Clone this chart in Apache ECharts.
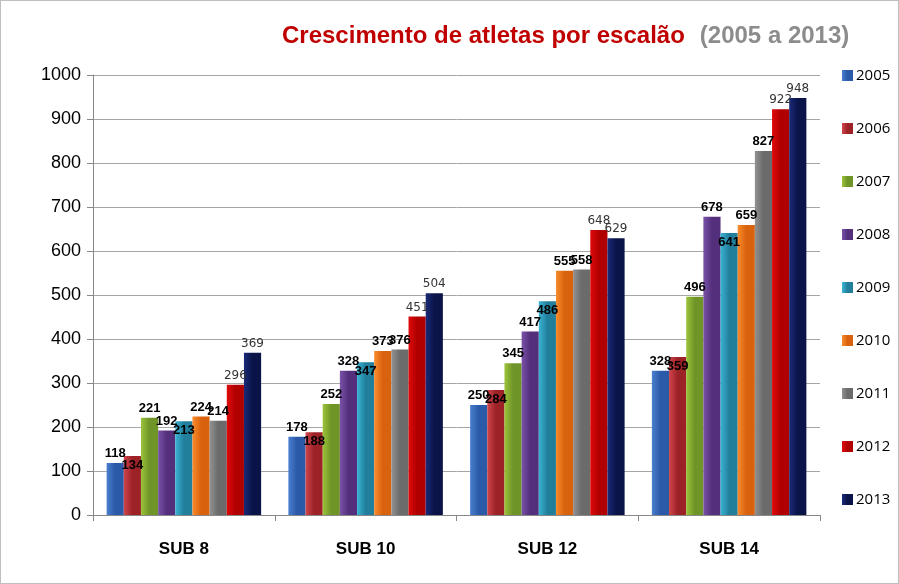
<!DOCTYPE html>
<html>
<head>
<meta charset="utf-8">
<script src="https://cdn.jsdelivr.net/npm/echarts@6/dist/echarts.min.js"></script>
<style>
html, body { margin: 0; padding: 0; background: #fff; }
#chart { width: 899px; height: 584px; box-sizing: border-box; border: 1px solid #bfbfbf; }
</style>
</head>
<body>
<div id="chart"></div>
<script>
var categorias = ['SUB 8', 'SUB 10', 'SUB 12', 'SUB 14'];
var anos = ['2005', '2006', '2007', '2008', '2009', '2010', '2011', '2012', '2013'];
var v2005 = [118, 178, 250, 328];
var v2006 = [134, 188, 284, 359];
var v2007 = [221, 252, 345, 496];
var v2008 = [192, 328, 417, 678];
var v2009 = [213, 347, 486, 641];
var v2010 = [224, 373, 555, 659];
var v2011 = [214, 376, 558, 827];
var v2012 = [296, 451, 648, 922];
var v2013 = [369, 504, 629, 948];
var valores = [v2005, v2006, v2007, v2008, v2009, v2010, v2011, v2012, v2013];

var cores = [
    ['#4a7fcf', '#2a5aa8'],
    ['#d0464b', '#9c2228'],
    ['#9cc43a', '#6f9428'],
    ['#7a52a8', '#532f7c'],
    ['#3bb4d4', '#217f9c'],
    ['#f98c2c', '#d9620e'],
    ['#929292', '#6b6b6b'],
    ['#e00a0a', '#b00000'],
    ['#1a2a78', '#0a1448']
];
// posicao do rotulo por serie
var posicoes = ['top', 'insideTop', 'top', 'top', 'insideTop', 'top', 'top', 'top', 'top'];

function gradiente(c) {
    return new echarts.graphic.LinearGradient(0, 0, 1, 0, [
        { offset: 0, color: c[0] },
        { offset: 0.5, color: c[1] },
        { offset: 1, color: c[1] }
    ]);
}

var series = [];
for (var i = 0; i < anos.length; i++) {
    var fino = i >= 7;
    series.push({
        name: anos[i],
        type: 'bar',
        data: valores[i],
        barGap: '0%',
        barCategoryGap: '15%',
        itemStyle: { color: gradiente(cores[i]) },
        label: {
            show: true,
            position: posicoes[i],
            distance: 3,
            color: fino ? '#333' : '#000',
            fontWeight: fino ? 'normal' : 'bold',
            fontFamily: fino ? 'DejaVu Sans' : 'Liberation Sans',
            fontSize: fino ? 12 : 13
        }
    });
}

var chart = echarts.init(document.getElementById('chart'));
chart.setOption({
    animation: false,
    title: {
        text: '{a|Crescimento de atletas por escalão}   {b|(2005 a 2013)}',
        left: 276,
        top: 18,
        textStyle: {
            rich: {
                a: { fontSize: 24, fontWeight: 'bold', color: '#c00000', fontFamily: 'Liberation Sans Narrow, Liberation Sans' },
                b: { fontSize: 24, fontWeight: 'bold', color: '#8c8c8c', fontFamily: 'Liberation Sans Narrow, Liberation Sans' }
            }
        }
    },
    legend: {
        orient: 'vertical',
        left: 836,
        top: 62,
        itemGap: 38,
        itemWidth: 11,
        itemHeight: 11,
        icon: 'rect',
        data: anos,
        textStyle: { fontSize: 15, color: '#000', fontFamily: 'Open Sans', padding: [0, 0, 0, -2] }
    },
    grid: { left: 92, right: 78, top: 74, bottom: 68, containLabel: false },
    xAxis: {
        type: 'category',
        data: categorias,
        axisLine: { lineStyle: { color: '#888' } },
        axisTick: { show: true, length: 6, lineStyle: { color: '#888' } },
        axisLabel: { fontSize: 17, fontWeight: 'bold', color: '#000', margin: 26, fontFamily: 'Liberation Sans' }
    },
    yAxis: {
        type: 'value',
        min: 0,
        max: 1000,
        interval: 100,
        axisLine: { show: true, lineStyle: { color: '#888' } },
        axisTick: { show: true, length: 6, lineStyle: { color: '#888' } },
        axisLabel: { fontSize: 18, color: '#000', margin: 12, fontFamily: 'Liberation Sans', formatter: function (v) { return String(v); } },
        splitLine: { lineStyle: { color: '#a6a6a6', width: 1 } }
    },
    series: series
});
</script>
</body>
</html>
